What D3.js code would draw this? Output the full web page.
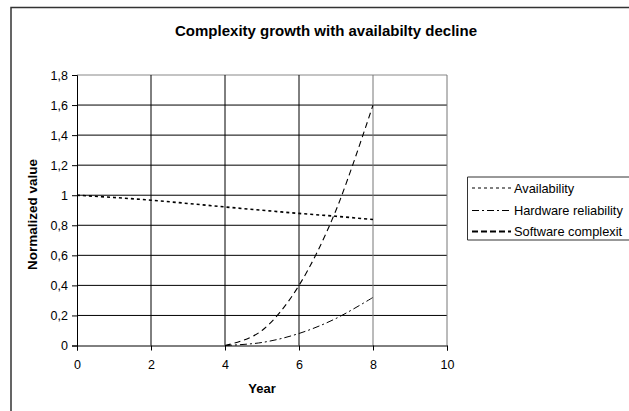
<!DOCTYPE html>
<html><head><meta charset="utf-8">
<script src="https://cdn.jsdelivr.net/npm/d3@7"></script>
<style>body{margin:0;background:#fff}svg{display:block}text{font-family:Arial,"Liberation Sans",sans-serif}</style>
</head><body>
<svg id="c" width="629" height="411"></svg>
<script>
const years = [0,1,2,3,4,5,6,7,8];
const availability = [1,0.985,0.967,0.945,0.922,0.9,0.879,0.86,0.838];
const hwYears = [4,5,6,7,8];
const hardwareReliability = [0,0.02,0.08,0.18,0.32];
const swYears = [4,5,6,7,8];
const softwareComplexity = [0,0.1,0.4,0.9,1.6];
const xTicks = [0,2,4,6,8,10];
const yTicks = [0,0.2,0.4,0.6,0.8,1,1.2,1.4,1.6,1.8];
const seriesNames = ["Availability","Hardware reliability","Software complexit"];
const title = "Complexity growth with availabilty decline";

const svg = d3.select("#c");
const L=77, R=447, T=75, B=345.5;
const x = d3.scaleLinear().domain([0,10]).range([L,R]);
const y = d3.scaleLinear().domain([0,1.8]).range([B,T]);
const fmt = d => d3.format("")(d).replace(".", ",");
const FF = "Arial, 'Liberation Sans', sans-serif";

// outer frame
svg.append("path").attr("d","M11,411V7.5H629").attr("fill","none").attr("stroke","#333").attr("stroke-width",1.5);

// title
svg.append("text").attr("x",326).attr("y",35.5).attr("text-anchor","middle")
  .attr("font-size",14.5).attr("font-weight","bold").attr("textLength",302).attr("lengthAdjust","spacingAndGlyphs").text(title);

// gridlines
const g = svg.append("g");
g.selectAll(".hg").data(yTicks.slice(1)).join("line")
  .attr("x1",L).attr("x2",R).attr("y1",d=>y(d)).attr("y2",d=>y(d))
  .attr("stroke",d=>d===1.8?"#888":"#000").attr("stroke-width",1);
g.selectAll(".vg").data(xTicks.slice(1)).join("line")
  .attr("y1",T).attr("y2",B).attr("x1",d=>x(d)).attr("x2",d=>x(d))
  .attr("stroke",d=>d===10||d===8?"#777":"#000").attr("stroke-width",1);

// axes
const ax = svg.append("g").attr("transform",`translate(0,${B})`)
  .call(d3.axisBottom(x).tickValues(xTicks).tickSize(5).tickPadding(10).tickFormat(fmt));
const ay = svg.append("g").attr("transform",`translate(${L},0)`)
  .call(d3.axisLeft(y).tickValues(yTicks).tickSize(5).tickPadding(4).tickFormat(fmt));
[ax,ay].forEach(a=>{
  a.attr("font-size",12.5).attr("font-family",FF);
  a.select(".domain").attr("stroke","#000").attr("stroke-width",1);
  a.selectAll(".tick line").attr("stroke","#000");
  a.selectAll("text").attr("fill","#000");
});

// axis titles
svg.append("text").attr("x",262).attr("y",393).attr("text-anchor","middle")
  .attr("font-size",13).attr("font-weight","bold").text("Year");
svg.append("text").attr("transform","translate(36.5,214.5) rotate(-90)").attr("text-anchor","middle")
  .attr("font-size",13.5).attr("font-weight","bold").text("Normalized value");

// lines
const line = d3.line().x(d=>x(d[0])).y(d=>y(d[1])).curve(d3.curveCardinal.tension(0));
const styles = [
  {dash:"3,3", w:1.6, c:"#000"},
  {dash:"7,3,2,3", w:1, c:"#000"},
  {dash:"6,4", w:1.1, c:"#000"}
];
const data = [
  years.map((v,i)=>[v,availability[i]]),
  hwYears.map((v,i)=>[v,hardwareReliability[i]]),
  swYears.map((v,i)=>[v,softwareComplexity[i]])
];
data.forEach((d,i)=>{
  svg.append("path").attr("d",line(d)).attr("fill","none")
    .attr("stroke",styles[i].c).attr("stroke-width",styles[i].w).attr("stroke-dasharray",styles[i].dash);
});

// legend
const lg = svg.append("g");
lg.append("path").attr("d","M629,177H467.5V240H629").attr("fill","#fff").attr("stroke","#333").attr("stroke-width",1);
const rowsY = [188,210.5,231.5];
const legStyles = [
  {dash:"3,3", w:1.2},
  {dash:"7,3,2,3", w:1},
  {dash:"6,3", w:2}
];
seriesNames.forEach((n,i)=>{
  lg.append("line").attr("x1",472).attr("x2",511).attr("y1",rowsY[i]).attr("y2",rowsY[i])
    .attr("stroke","#000").attr("stroke-width",legStyles[i].w).attr("stroke-dasharray",legStyles[i].dash);
  lg.append("text").attr("x",514).attr("y",rowsY[i]+4.5).attr("font-size",12.8).text(n);
});
</script>
</body></html>
